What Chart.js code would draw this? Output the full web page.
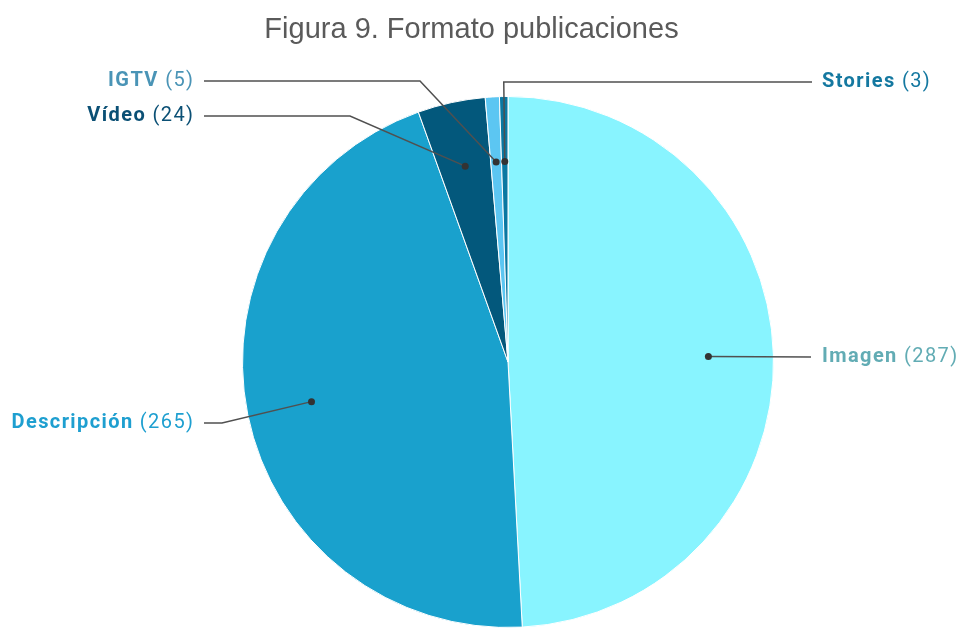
<!DOCTYPE html>
<html>
<head>
<meta charset="utf-8">
<script src="https://cdn.jsdelivr.net/npm/chart.js@4/dist/chart.umd.min.js"></script>
<style>
html,body{margin:0;padding:0;background:#fff;overflow:hidden;}
#wrap{width:961px;height:628px;position:relative;}
</style>
</head>
<body>
<div id="wrap"><canvas id="c" width="961" height="628"></canvas></div>
<script>
// ---- data ----
const categories = ['Imagen', 'Descripción', 'Vídeo', 'IGTV', 'Stories'];
const values = [287, 265, 24, 5, 3];
const sliceColors = ['#88F4FF', '#19A1CD', '#03587C', '#5CC6F2', '#0A78A2'];
const labelColors = ['#62ACB4', '#1E9FD0', '#0B5075', '#4A94B6', '#1478A0'];
const titleText = 'Figura 9. Formato publicaciones';

// ---- label layout (positions only) ----
const labelLayout = [
  {side: 'right', x: 822, y: 357, lineEnd: 811},
  {side: 'left',  x: 193, y: 423, lineEnd: 204, elbowX: 222},
  {side: 'left',  x: 193, y: 116, lineEnd: 204, elbowX: 350},
  {side: 'left',  x: 193, y: 81,  lineEnd: 204, elbowX: 420},
  {side: 'right', x: 822, y: 82,  lineEnd: 812, vertical: true}
];

const labelPlugin = {
  id: 'labels',
  afterDraw(chart) {
    const ctx = chart.ctx;
    const meta = chart.getDatasetMeta(0);
    ctx.save();
    ctx.font = '29px "Liberation Sans", Arial, sans-serif';
    ctx.fillStyle = '#5a5a5a';
    ctx.textAlign = 'center';
    ctx.textBaseline = 'alphabetic';
    ctx.fillText(titleText, 471.5, 38);

    meta.data.forEach((arc, i) => {
      const p = arc.getProps(['x', 'y', 'startAngle', 'endAngle', 'outerRadius'], true);
      const mid = (p.startAngle + p.endAngle) / 2;
      const r = p.outerRadius * 0.755;
      const dx = p.x + Math.cos(mid) * r;
      const dy = p.y + Math.sin(mid) * r;
      const L = labelLayout[i];
      ctx.strokeStyle = '#505050';
      ctx.lineWidth = 1.5;
      ctx.beginPath();
      ctx.moveTo(dx, dy);
      if (L.vertical) {
        ctx.lineTo(dx - 1, L.y);
        ctx.lineTo(L.lineEnd, L.y);
      } else if (L.elbowX !== undefined) {
        ctx.lineTo(L.elbowX, L.y);
        ctx.lineTo(L.lineEnd, L.y);
      } else {
        ctx.lineTo(L.lineEnd, L.y);
      }
      ctx.stroke();
      ctx.fillStyle = '#333333';
      ctx.beginPath();
      ctx.arc(dx, dy, 3.5, 0, Math.PI * 2);
      ctx.fill();

      const name = categories[i];
      const val = ' (' + values[i] + ')';
      ctx.textBaseline = 'middle';
      ctx.fillStyle = labelColors[i];
      ctx.letterSpacing = '1.4px';
      const boldFont = 'bold 20px Roboto, sans-serif';
      const regFont = '20px Roboto, sans-serif';
      ctx.font = boldFont;
      const wName = ctx.measureText(name).width;
      ctx.font = regFont;
      const wVal = ctx.measureText(val).width - 1.4;
      let sx = L.side === 'right' ? L.x : L.x - wName - wVal;
      ctx.textAlign = 'left';
      ctx.font = boldFont;
      ctx.fillText(name, sx, L.y);
      ctx.font = regFont;
      ctx.fillText(val, sx + wName, L.y);
    });
    ctx.restore();
  }
};

new Chart(document.getElementById('c'), {
  type: 'pie',
  data: {
    labels: categories,
    datasets: [{
      data: values,
      backgroundColor: sliceColors,
      borderColor: '#ffffff',
      borderWidth: 1
    }]
  },
  options: {
    responsive: false,
    animation: false,
    layout: {padding: {left: 241, right: 186, top: 96, bottom: 0}},
    plugins: {
      legend: {display: false},
      title: {display: false},
      tooltip: {enabled: false}
    }
  },
  plugins: [labelPlugin]
});
</script>
</body>
</html>
